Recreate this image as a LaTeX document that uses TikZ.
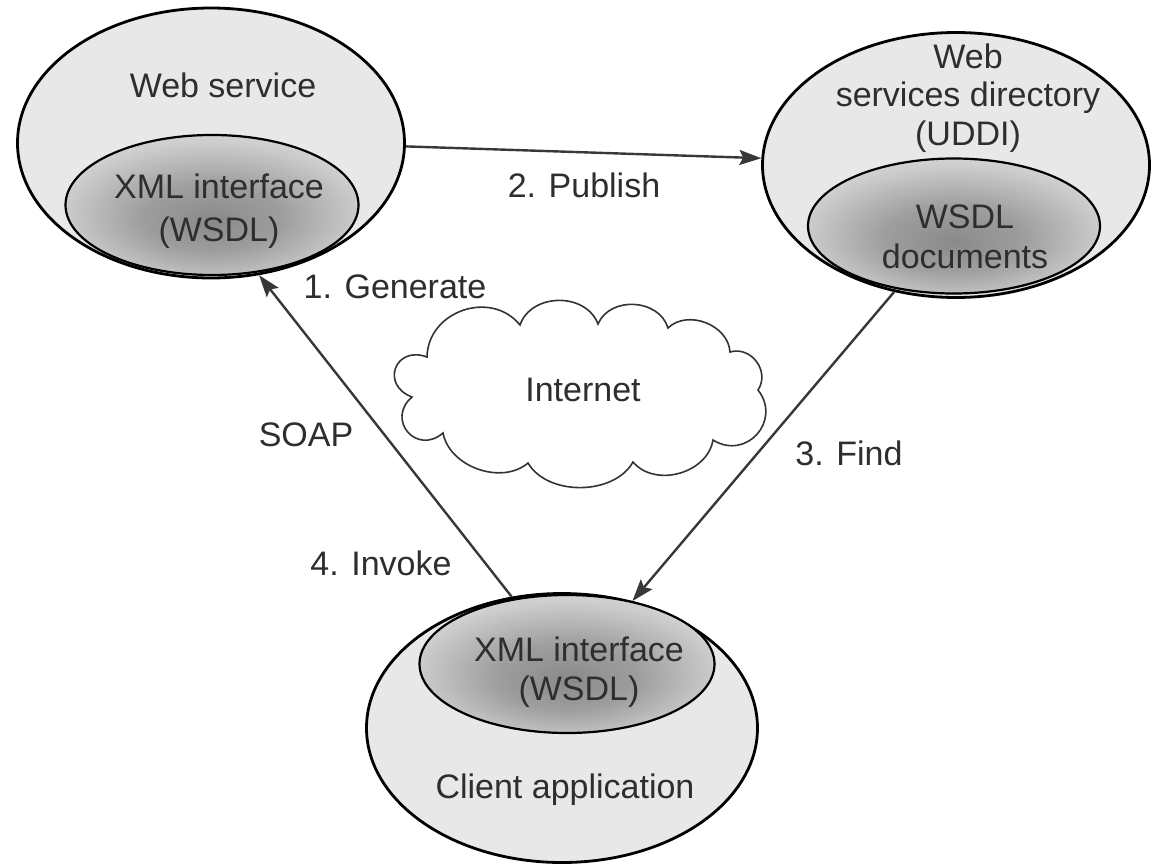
\documentclass[tikz,border=0pt]{standalone}
\usepackage{fontspec}
\setmainfont{Liberation Sans}
\usetikzlibrary{shapes.geometric,arrows.meta}
% soft dark core for the WSDL interface ellipses
\pgfdeclareradialshading{wsdlcore}{\pgfpoint{0bp}{-6bp}}{color(0bp)=(black!46); color(12bp)=(black!38); color(26bp)=(black!19); color(40bp)=(black!11); color(50bp)=(black!10)}
\begin{document}
\begin{tikzpicture}[x=1pt,y=-1pt,
  outer/.style={ellipse,draw=black,line width=2.8pt,fill=black!9,inner sep=0pt},
  inner/.style={ellipse,draw=black,line width=2.2pt,shade,shading=wsdlcore,inner sep=0pt},
  txt/.style={font=\fontsize{34}{40}\selectfont,text=black!82,inner sep=0pt,align=center},
  flow/.style={draw=black!78,line width=2.4pt,-{Stealth[length=22pt,width=15pt,inset=4pt]}},
  cloudline/.style={draw=black!80,line width=1.6pt,fill=white},
]
\useasboundingbox[fill=white] (0,0) rectangle (1153,864);

% service, directory and client
\node[outer,minimum width=387pt,minimum height=270pt] (ws) at (211,143) {};
\node[inner,minimum width=293pt,minimum height=140pt] (wsi) at (212,205) {};
\node[outer,minimum width=387pt,minimum height=265pt] (dir) at (956,165) {};
\node[inner,minimum width=292pt,minimum height=135pt] (diri) at (954,226) {};
\node[outer,minimum width=391pt,minimum height=269pt] (cli) at (562,728) {};
\node[inner,minimum width=295pt,minimum height=138pt] (clii) at (567,664) {};

\node[txt] (wst) at (223,85) {Web service};
\node[txt] (wsit) at (219,211) {XML interface\\[3pt](WSDL)};
\node[txt] (dirt) at (968,98) {Web\\[-1.5pt]services directory\\[-1.5pt](UDDI)};
\node[txt] (dirit) at (965,237) {WSDL\\documents};
\node[txt] (cliit) at (579,672) {XML interface\\[-1pt](WSDL)};
\node[txt] (clit) at (565,790) {Client application};

% the Internet cloud
\draw[cloudline] (427,357)
  to[bend left=70,looseness=1.2] (520,325)
  to[bend left=70,looseness=1.12] (598,324)
  to[bend left=70,looseness=1.12] (668,328)
  to[bend left=65,looseness=1.05] (730,352)
  to[bend left=70,looseness=1.2] (758,390)
  to[bend left=80,looseness=1.49] (713,440)
  to[bend left=65,looseness=1.05] (633,462)
  to[bend left=60,looseness=0.94] (528,463)
  to[bend left=60,looseness=0.98] (443,433)
  to[bend left=90,looseness=1.87] (412,397)
  to[bend left=90,looseness=2.04] cycle;
\node[txt] (net) at (583,390) {Internet};

% message flows
\draw[flow] (ws.-1.5) -- (dir.178);
\draw[flow] (dir.-116) -- (cli.61);
\draw[flow] (cli.111) -- (ws.-70);

\node[txt] (pub) at (584,185) {2. Publish};
\node[txt] (gen) at (395,287) {1. Generate};
\node[txt] (soap) at (306,435) {SOAP};
\node[txt] (inv) at (381,563) {4. Invoke};
\node[txt] (find) at (849,453) {3. Find};
\end{tikzpicture}
\end{document}
